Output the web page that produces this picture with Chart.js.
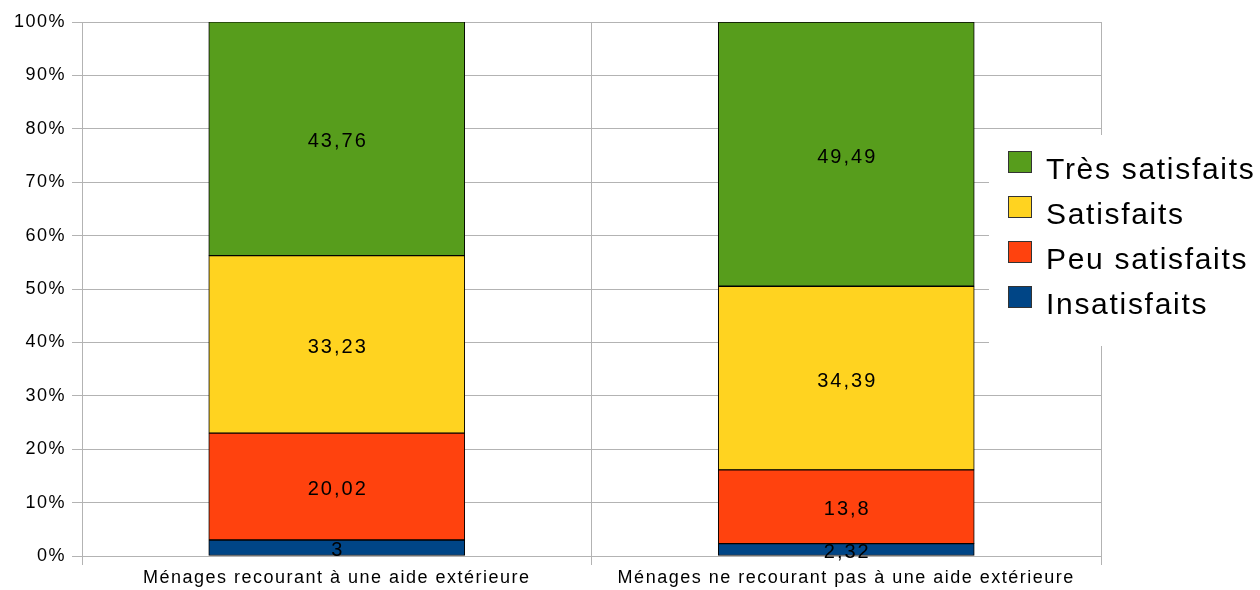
<!DOCTYPE html>
<html>
<head>
<meta charset="utf-8">
<script src="https://cdn.jsdelivr.net/npm/chart.js@4/dist/chart.umd.min.js"></script>
<style>
  html, body { margin: 0; padding: 0; background: #fff; }
  #wrap { width: 1260px; height: 590px; }
</style>
</head>
<body>
<div id="wrap"><canvas id="chart"></canvas></div>
<script>
// --- données ---
const categories = [
  "Ménages recourant à une aide extérieure",
  "Ménages ne recourant pas à une aide extérieure"
];
const insatisfaits = [3, 2.32];
const peuSatisfaits = [20.02, 13.8];
const satisfaits = [33.23, 34.39];
const tresSatisfaits = [43.76, 49.49];
const yTicks = [0, 10, 20, 30, 40, 50, 60, 70, 80, 90, 100];

const gridColor = "#b3b3b3";
const FONT = "'Liberation Sans', Arial, sans-serif";

function fmt(v) {
  return String(v).replace(".", ",");
}

// espacement des lettres comme dans l'original
const spacing = {
  id: "spacing",
  beforeDraw(chart) { chart.ctx.letterSpacing = "1.5px"; },
};

// étiquettes au centre de chaque segment
const valueLabels = {
  id: "valueLabels",
  afterDatasetsDraw(chart) {
    const ctx = chart.ctx;
    ctx.save();
    ctx.letterSpacing = "2px";
    ctx.font = "20px " + FONT;
    ctx.fillStyle = "#000";
    ctx.textAlign = "center";
    ctx.textBaseline = "middle";
    chart.data.datasets.forEach((ds, i) => {
      chart.getDatasetMeta(i).data.forEach((bar, j) => {
        const p = bar.getProps(["x", "y", "base"], true);
        ctx.fillText(fmt(ds.data[j]), p.x + 1, (p.y + p.base) / 2 + 3);
      });
    });
    ctx.restore();
  }
};

// légende posée par-dessus la zone du graphique
const sideLegend = {
  id: "sideLegend",
  afterDraw(chart) {
    const ctx = chart.ctx;
    ctx.save();
    ctx.fillStyle = "#fff";
    ctx.fillRect(989, 135, 271, 211);
    ctx.letterSpacing = "1.7px";
    ctx.font = "30px " + FONT;
    ctx.textBaseline = "alphabetic";
    const order = [3, 2, 1, 0];
    order.forEach((idx, k) => {
      const ds = chart.data.datasets[idx];
      const top = 151 + k * 45;
      ctx.fillStyle = ds.backgroundColor;
      ctx.fillRect(1008, top, 24, 22);
      ctx.strokeStyle = "#333";
      ctx.lineWidth = 1;
      ctx.strokeRect(1008.5, top + 0.5, 23, 21);
      ctx.fillStyle = "#000";
      ctx.fillText(ds.label, 1046, top + 28);
    });
    ctx.restore();
  }
};

new Chart(document.querySelector("#chart"), {
  type: "bar",
  data: {
    labels: categories,
    datasets: [
      { label: "Insatisfaits", data: insatisfaits, backgroundColor: "#004586" },
      { label: "Peu satisfaits", data: peuSatisfaits, backgroundColor: "#ff420e" },
      { label: "Satisfaits", data: satisfaits, backgroundColor: "#ffd320" },
      { label: "Très satisfaits", data: tresSatisfaits, backgroundColor: "#579d1c" },
    ].map(d => Object.assign(d, {
      borderColor: "#000",
      borderWidth: 1,
      borderSkipped: false,
      barThickness: 256,
    })),
  },
  options: {
    responsive: true,
    maintainAspectRatio: false,
    animation: false,
    devicePixelRatio: 1,
    layout: { padding: { left: 0, right: 159, top: 22, bottom: 0 } },
    plugins: {
      legend: { display: false },
      tooltip: { enabled: false },
    },
    scales: {
      x: {
        stacked: true,
        grid: { color: gridColor, tickLength: 9, offset: true, lineWidth: 1 },
        border: { color: gridColor },
        ticks: {
          color: "#000",
          font: { family: FONT, size: 18 },
          padding: 2,
        },
        afterFit(scale) { scale.height = 34; },
      },
      y: {
        stacked: true,
        min: 0,
        max: 100,
        afterBuildTicks(scale) { scale.ticks = yTicks.map(v => ({ value: v })); },
        grid: { color: gridColor, tickLength: 10 },
        border: { color: gridColor },
        ticks: {
          color: "#000",
          font: { family: FONT, size: 18 },
          padding: 6,
          callback: v => v + "%",
        },
        afterFit(scale) { scale.width = 82; },
      },
    },
  },
  plugins: [spacing, valueLabels, sideLegend],
});
</script>
</body>
</html>
